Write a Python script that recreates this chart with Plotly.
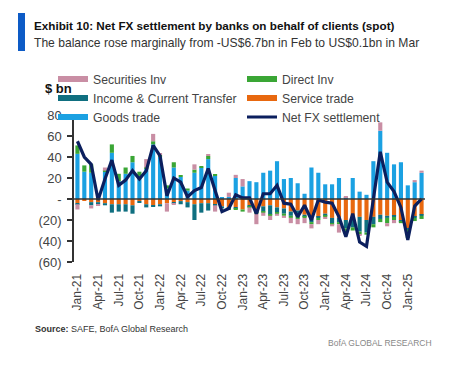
import plotly.graph_objects as go
import pandas as pd

months = [d.strftime("%b-%y") for d in pd.date_range("2021-01-01", "2025-03-01", freq="MS")]

goods = [43, 26, 25, 3, 26, 44, 17, 24, 35, 22, 29, 52, 40, 10, 30, 21, 8, 25, 30, 38,
         22, 1, 2, 20, 12, 17, 16, 25, 27, 36, 19, 20, 15, 5, 30, 25, 14, 14, 20, 1,
         20, 7, 4, 36, 65, 44, 33, 35, 13, 16, 25]
service = [-4, -1, -3, -3, -4, -5, -5, -5, -6, -2, -5, -6, -5, -4, -3, -2, -3, -5, -4, -4,
           -5, -7, -8, -8, -10, -6, -12, -7, -6, -8, -9, -12, -11, -15, -19, -17, -14, -18, -18, -20,
           -17, -17, -20, -17, -15, -16, -16, -20, -28, -17, -15]
income = [-1, 0, -3, -2, -2, -8, -7, -7, -8, -1, -3, -1, -2, 0, -1, -3, -5, -15, -9, -7,
          -1, -2, -1, -1, 0, -1, -1, -5, -9, -5, -5, -4, -5, -2, -3, -1, -2, -5, -4, -8,
          -10, -14, -12, -7, -4, -2, -1, -1, -1, -1, -1]
direct = [8, 6, 8, 0, 1, 8, 7, 6, 6, 4, 1, 3, 2, 3, 5, 1, 2, 3, 1, 3,
          1, 0, -1, -1, -2, -1, -1, -1, -1, -1, -2, -2, -3, -1, -2, -2, -1, -1, -2, -4,
          -3, -3, -2, -3, -3, -5, -3, -2, -8, -3, -3]
securities = [-5, 0, -3, -1, 3, 0, 0, 0, 0, 0, 8, 7, 1, -8, -1, 0, 0, 5, 0, 1,
              -6, 0, 4, 3, 7, -5, -10, -3, -4, -2, -2, -5, -5, -5, -4, -4, -2, -2, -8, 1,
              0, -1, 0, 0, 8, -3, -3, 0, 0, 2, 2]
net_fx = [55, 40, 33, -1, 19, 37, 13, 18, 27, 19, 27, 51, 41, 3, 20, 16, 2, 8, 11, 29,
          8, -12, -9, 4, 1, 1, -14, 5, 5, 13, -4, -5, -17, -6, -20, -1, -3, -4, -17, -36,
          -14, -41, -45, -1, 45, 16, 7, -8, -39, -6.7, 0.1]

y_tickvals = [-60, -40, -20, 0, 20, 40, 60, 80]
y_ticktext = ["(60)", "(40)", "(20)", "-", "20", "40", "60", "80"]
x_tickvals = months[0:49:3]

C_GOODS = "#1ba1e2"
C_SERV = "#e8680f"
C_INC = "#0f6f80"
C_DIR = "#3aa635"
C_SEC = "#c98ea4"
C_NET = "#0b1f5e"

FONT = "Liberation Sans"

fig = go.Figure()
# legend-only swatches
for name, col in [("Securities Inv", C_SEC), ("Direct Inv", C_DIR),
                  ("Income & Current Transfer", C_INC), ("Service trade", C_SERV),
                  ("Goods trade", C_GOODS)]:
    fig.add_trace(go.Scatter(x=[None], y=[None], mode="lines", name=name,
                             line=dict(color=col, width=6)))

for name, vals, col in [("Goods trade", goods, C_GOODS), ("Service trade", service, C_SERV),
                        ("Income & Current Transfer", income, C_INC), ("Direct Inv", direct, C_DIR),
                        ("Securities Inv", securities, C_SEC)]:
    fig.add_trace(go.Bar(x=months, y=vals, name=name, marker=dict(color=col, line=dict(width=0)),
                         showlegend=False))

fig.add_trace(go.Scatter(x=months, y=net_fx, mode="lines", name="Net FX settlement",
                         line=dict(color=C_NET, width=3.2)))

# page body has an 8px margin; work in screen coordinates and convert
OFF = 8
W, H = 468, 358
L = 74 - OFF
T = 115 - OFF
R = W - (425 - OFF)
B = H - (262 - OFF)
pw, ph = W - L - R, H - T - B

def px(xs):
    return (xs - OFF - L) / pw

def py(ys):
    return (H - B - (ys - OFF)) / ph

fig.update_layout(
    width=W, height=H, margin=dict(l=L, r=R, t=T, b=B, autoexpand=False),
    paper_bgcolor="white", plot_bgcolor="white",
    barmode="relative", bargap=0.4,
    font=dict(family=FONT, color="#444", size=12),
    showlegend=True,
    legend=dict(orientation="h", x=px(53), y=py(64.5), xanchor="left", yanchor="top",
                entrywidth=144, entrywidthmode="pixels", traceorder="normal",
                font=dict(size=12.2, color="#444"), bgcolor="rgba(0,0,0,0)",
                itemwidth=30, tracegroupgap=0),
    xaxis=dict(type="category", tickmode="array", tickvals=x_tickvals, ticktext=x_tickvals,
               tickangle=-90, showline=False, showgrid=False, ticks="outside", ticklen=6,
               tickcolor="rgba(0,0,0,0)", tickfont=dict(size=12, color="#444"),
               range=[-0.5, len(months) - 0.5]),
    yaxis=dict(range=[-60, 80], tickmode="array", tickvals=y_tickvals, ticktext=y_ticktext,
               showline=True, linecolor="#333", linewidth=1.5, ticks="outside", ticklen=5,
               tickcolor="#333", tickwidth=1.5, showgrid=False, zeroline=False,
               tickfont=dict(size=13, color="#444"), ticklabelstandoff=3),
)

fig.add_shape(type="line", xref="paper", yref="y", x0=0, x1=1, y0=0, y1=0,
              line=dict(color="#333", width=1.5), layer="above")

# title bar
fig.add_shape(type="rect", xref="paper", yref="paper", x0=px(18), x1=px(25), y0=py(51), y1=py(13),
              fillcolor="#0d5bc6", line=dict(width=0))

ann = [
    dict(text="<b>Exhibit 10: Net FX settlement by banks on behalf of clients (spot)</b>",
         x=px(32), y=py(25), font=dict(size=11.7, color="#111")),
    dict(text="The balance rose marginally from -US$6.7bn in Feb to US$0.1bn in Mar",
         x=px(32), y=py(43), font=dict(size=12.1, color="#333")),
    dict(text="<b>$ bn</b>", x=px(43), y=py(88), font=dict(size=13, color="#111")),
    dict(text="<b>Source:</b> SAFE, BofA Global Research", x=px(33), y=py(329),
         font=dict(size=9, color="#333")),
]
for a in ann:
    fig.add_annotation(xref="paper", yref="paper", xanchor="left", yanchor="middle",
                       showarrow=False, **a)
fig.add_annotation(xref="paper", yref="paper", xanchor="right", yanchor="middle",
                   showarrow=False, text="BofA GLOBAL RESEARCH", x=px(434), y=py(343),
                   font=dict(size=8.5, color="#888"))

fig.write_html("out.html")
